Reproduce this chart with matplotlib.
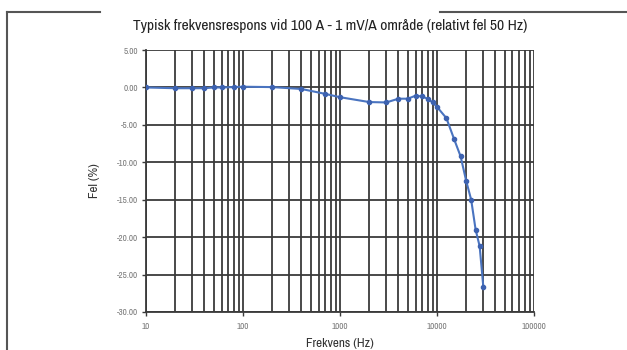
import matplotlib.pyplot as plt
from matplotlib.lines import Line2D
from matplotlib.ticker import FixedLocator, LogLocator, NullFormatter

# frequency response, error relative to 50 Hz
freq_hz = [10, 20, 30, 40, 50, 60, 80, 100, 200, 400, 700, 1000, 2000, 3000,
           4000, 5000, 6000, 7000, 8000, 9000, 10000, 12500, 15000, 17500,
           20000, 22500, 25000, 27500, 30000]
error_pct = [0.0, -0.1, -0.1, -0.1, 0.0, 0.0, 0.05, 0.1, 0.05, -0.2, -0.85,
             -1.3, -1.95, -2.0, -1.5, -1.5, -1.1, -1.2, -1.5, -2.0, -2.6,
             -4.1, -6.9, -9.2, -12.5, -15.0, -19.0, -21.2, -26.6]

y_ticks = [5, 0, -5, -10, -15, -20, -25, -30]
x_ticks = [10, 100, 1000, 10000, 100000]

title = "Typisk frekvensrespons vid 100 A - 1 mV/A område (relativt fel 50 Hz)"

plt.rcParams['font.family'] = ['Archivo Narrow', 'Liberation Sans', 'DejaVu Sans']

fig = plt.figure(figsize=(6.27, 3.5), dpi=100)
ax = fig.add_axes([0.2329, 0.1086, 0.6188, 0.7484])

ax.set_xscale('log')
ax.set_xlim(10, 100000)
ax.set_ylim(-30, 5)

ax.xaxis.set_major_locator(FixedLocator(x_ticks))
ax.xaxis.set_minor_locator(LogLocator(base=10, subs=range(2, 10)))
ax.xaxis.set_minor_formatter(NullFormatter())
ax.set_xticklabels([str(t) for t in x_ticks])
ax.set_yticks(y_ticks)
ax.set_yticklabels(["%.2f" % t for t in y_ticks])

ax.grid(True, which='both', axis='x', color='#3a3a3a', lw=1.3)
ax.grid(True, which='major', axis='y', color='#3a3a3a', lw=1.3)
ax.set_axisbelow(True)

for side in ['top', 'right']:
    ax.spines[side].set_visible(False)
for side in ['left', 'bottom']:
    ax.spines[side].set_color('#3a3a3a')
    ax.spines[side].set_linewidth(1.3)

ax.tick_params(axis='both', which='major', labelsize=6.5, colors='#3a3a3a',
               labelcolor='#7a7a7a', length=3, width=1)
ax.tick_params(axis='x', which='minor', length=0)
ax.tick_params(axis='y', pad=3)
ax.tick_params(axis='x', pad=4)

ax.plot(freq_hz, error_pct, color='#4a74c0', lw=1.5, marker='o',
        markersize=3, markerfacecolor='#3d62b0', markeredgecolor='#3d62b0',
        zorder=3)

fig.text(0.527, 0.926, title, ha='center', va='center', fontsize=11.2,
         color='#222222')
ax.set_ylabel("Fel (%)", fontsize=9.5, color='#333333', labelpad=12)
ax.set_xlabel("Frekvens (Hz)", fontsize=9.5, color='#333333', labelpad=5)

# border segments along the top and left edge of the figure
frame = dict(color='#555555', lw=1.5, transform=fig.transFigure)
fig.add_artist(Line2D([7 / 627, 7 / 627], [0, 1 - 12 / 350], **frame))
fig.add_artist(Line2D([7 / 627, 100 / 627], [1 - 12 / 350, 1 - 12 / 350], **frame))
fig.add_artist(Line2D([440 / 627, 1], [1 - 12 / 350, 1 - 12 / 350], **frame))

fig.savefig("out.png", dpi=100)
